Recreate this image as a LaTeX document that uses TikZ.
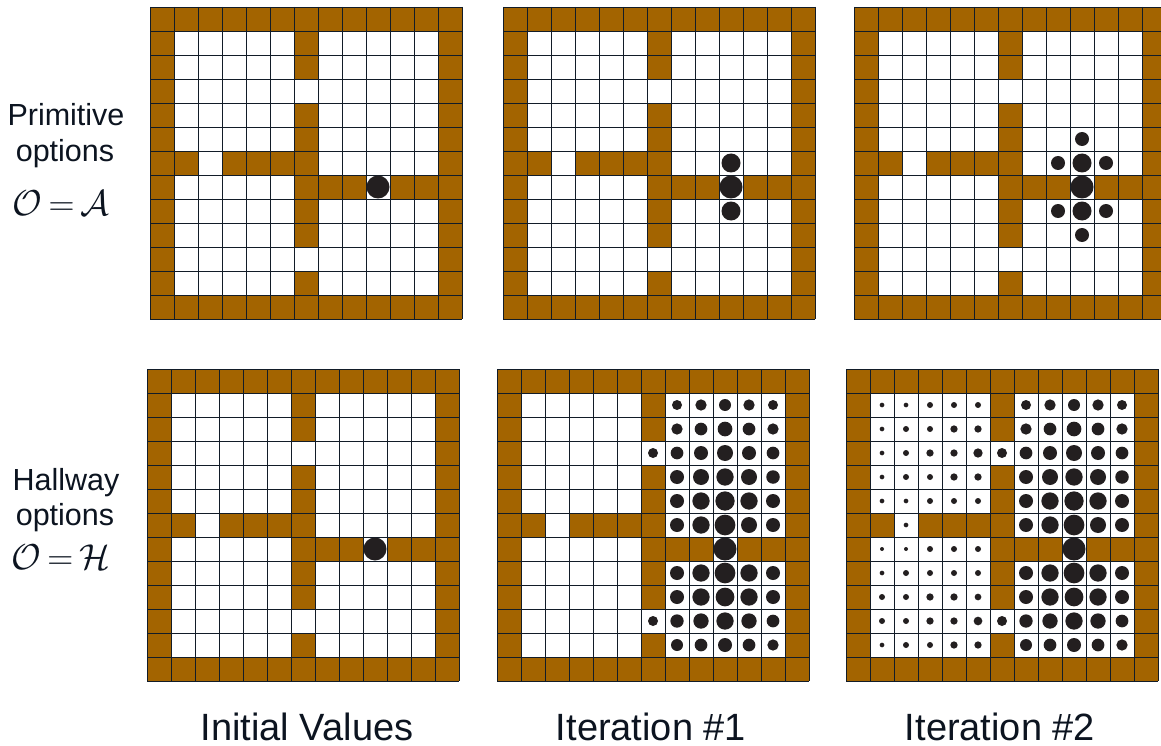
\RequirePackage{fix-cm}
\documentclass[tikz,border=0pt]{standalone}
\usepackage{fontspec}
\setmainfont{Liberation Sans}
\definecolor{wallc}{RGB}{163,100,0}
\definecolor{dotc}{RGB}{35,31,32}
\definecolor{gridc}{RGB}{18,28,40}
\definecolor{txtc}{RGB}{12,20,32}
\tikzset{
  lab/.style={text=txtc, inner sep=0pt, anchor=base, font=\fontsize{30.5}{30.5}\selectfont},
  mlab/.style={text=txtc, inner sep=0pt, anchor=base, font=\fontsize{36}{36}\selectfont},
  caplab/.style={text=txtc, inner sep=0pt, anchor=base, font=\fontsize{38}{38}\selectfont},
  gline/.style={draw=gridc, line width=0.9pt},
  gdot/.style={fill=dotc}
}
\newcommand\gworld[2]{%
  \begin{scope}[shift={(#1,#2)}]
    \fill[wallc] (0,0) rectangle (312,312);
    \fill[white] (24,24) rectangle (288,288);
    \foreach \cc/\rw in {6/1,6/2,6/4,6/5,6/6,6/7,6/8,6/9,6/11,1/6,3/6,4/6,5/6,7/7,8/7,10/7,11/7}
      \fill[wallc] (\cc*24,\rw*24) rectangle ++(24,24);
    \foreach \ii in {0,...,13} {
      \draw[gline] (\ii*24,0) -- (\ii*24,312);
      \draw[gline] (0,\ii*24) -- (312,\ii*24);
    }
  \end{scope}}
\newcommand\gdots[3]{%
  \begin{scope}[shift={(#1,#2)}]
    \foreach \cc/\rw/\dd in #3 {
      \pgfmathsetmacro\rr{\dd/2}
      \fill[gdot] (\cc*24+12,\rw*24+12) circle[radius=\rr pt];
    }
  \end{scope}}
\def\goaldot{9/7/23}
\def\topone{9/6/19,9/7/23,9/8/19}
\def\toptwo{9/5/14,8/6/14,9/6/19,10/6/14,9/7/23,8/8/14,9/8/19,10/8/14,9/9/14}
\def\rightdots{7/1/10,8/1/11.3,9/1/12,10/1/11.3,11/1/10,
7/2/11.3,8/2/12.7,9/2/14.7,10/2/12.7,11/2/11.3,
7/3/12.7,8/3/14,9/3/16,10/3/14,11/3/12.7,
7/4/14,8/4/16,9/4/17.3,10/4/16,11/4/13.5,
7/5/14,8/5/17.3,9/5/19.3,10/5/17.3,11/5/14,
7/6/14,8/6/17.3,9/6/20.7,10/6/16,11/6/14,
9/7/23,
7/8/14,8/8/17.3,9/8/20.7,10/8/17.3,11/8/14,
7/9/14,8/9/17.3,9/9/18.7,10/9/17.3,11/9/14,
7/10/13.3,8/10/15.3,9/10/17.3,10/10/15.3,11/10/12.7,
7/11/12,8/11/12.7,9/11/14,10/11/12.7,11/11/11.3,
6/3/10,6/10/10}
\def\leftdots{1/1/4.7,2/1/4.7,3/1/6,4/1/6,5/1/6,
1/2/4.7,2/2/6,3/2/6,4/2/7.3,5/2/7.3,
1/3/4.7,2/3/6,3/3/7.3,4/3/7.3,5/3/9.3,
1/4/4.7,2/4/6,3/4/6,4/4/7.3,5/4/7.3,
1/5/4.7,2/5/4.7,3/5/6,4/5/6,5/5/6,
2/6/4.7,
1/7/4,2/7/4,3/7/6,4/7/6,5/7/6,
1/8/4.7,2/8/6,3/8/6,4/8/6,5/8/6,
1/9/6,2/9/6,3/9/7.3,4/9/7.3,5/9/6.7,
1/10/6,2/10/6,3/10/7.3,4/10/7.3,5/10/8.7,
1/11/4.7,2/11/6,3/11/6,4/11/7.3,5/11/7.3}
\begin{document}
\begin{tikzpicture}[x=1pt,y=-1pt]
  \useasboundingbox (0,0) rectangle (1161,746);
  \clip (0,0) rectangle (1161,746);
  \fill[white] (0,0) rectangle (1161,746);
  % top row: primitive options
  \gworld{150}{7}
  \gdots{150}{7}{\goaldot}
  \gworld{503}{7}
  \gdots{503}{7}{\topone}
  \gworld{854}{7}
  \gdots{854}{7}{\toptwo}
  % bottom row: hallway options
  \gworld{147}{369}
  \gdots{147}{369}{\goaldot}
  \gworld{497}{369}
  \gdots{497}{369}{\rightdots}
  \gworld{846}{369}
  \gdots{846}{369}{\rightdots}
  \gdots{846}{369}{\leftdots}
  % labels
  \node[lab] (pa) at (66,126) {Primitive};
  \node[lab] (pb) at (65,162) {options};
  \node[mlab] (pc) at (61,215) {$\mathcal{O}\mkern-2mu=\mkern-2mu\mathcal{A}$};
  \node[lab] (ha) at (66,490) {Hallway};
  \node[lab] (hb) at (65,525) {options};
  \node[mlab] (hc) at (61,569) {$\mathcal{O}\mkern-2mu=\mkern-2mu\mathcal{H}$};
  \node[caplab] (c1) at (307,740) {Initial Values};
  \node[caplab] (c2) at (651,740) {Iteration \#1};
  \node[caplab] (c3) at (1000,740) {Iteration \#2};
\end{tikzpicture}
\end{document}
